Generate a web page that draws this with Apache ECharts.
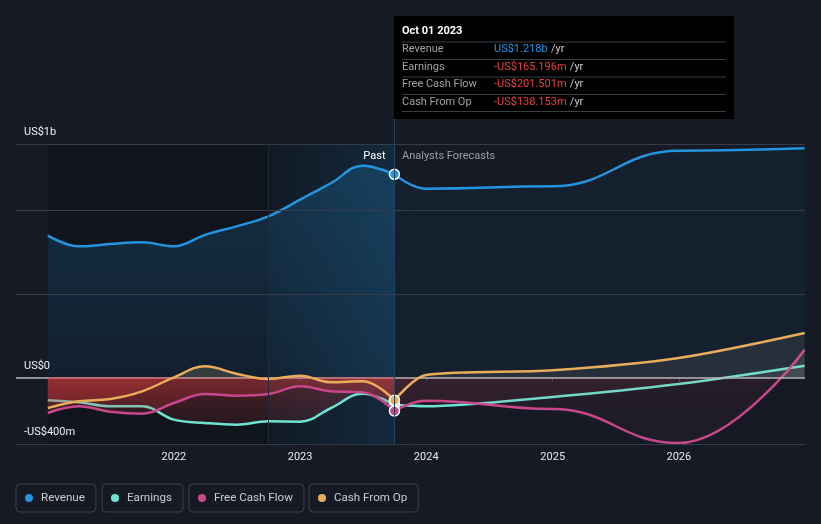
<!DOCTYPE html>
<html><head><meta charset="utf-8">
<script src="https://cdn.jsdelivr.net/npm/echarts@6/dist/echarts.min.js"></script>
<style>html,body{margin:0;padding:0;background:#151a25;}#c{width:821px;height:524px;}</style>
</head><body><div id="c"></div>
<script>
// ---- data (values in US$ billions) ----
const pastDates = ['2021-01-01','2021-04-01','2021-07-01','2021-10-01','2022-01-01','2022-04-01','2022-07-01','2022-10-01','2023-01-01','2023-04-01','2023-07-01','2023-10-01'];
const forecastDates = ['2023-12-31','2024-12-31','2025-12-31','2026-12-31'];
const revenuePast = [0.85,0.786,0.80,0.81,0.786,0.855,0.906,0.966,1.066,1.166,1.27,1.218];
const revenueForecast = [1.132,1.146,1.36,1.374];
const earningsPast = [-0.138,-0.15,-0.174,-0.174,-0.254,-0.274,-0.284,-0.264,-0.266,-0.184,-0.098,-0.165196];
const earningsForecast = [-0.174,-0.118,-0.04,0.07];
const fcfPast = [-0.214,-0.174,-0.206,-0.218,-0.154,-0.10,-0.11,-0.10,-0.054,-0.084,-0.09,-0.201501];
const fcfForecast = [-0.14,-0.19,-0.394,0.166];
const cfoPast = [-0.184,-0.144,-0.13,-0.084,0.0,0.066,0.022,-0.01,0.01,-0.03,-0.024,-0.138153];
const cfoForecast = [0.014,0.042,0.116,0.266];
const seriesNames = ['Revenue','Earnings','Free Cash Flow','Cash From Op'];
const gridValues = [1.4, 1.0, 0.5, 0, -0.4];
const gridLabels = ['US$1b','','','US$0','-US$400m'];
const tooltipTitle = 'Oct 01 2023';
const lastYearStart = '2022-10-01';
const nowDate = '2023-10-01';

// ---- styles ----
const colors = ['#2394df','#6fe3d2','#c8478b','#e9ac5b'];
const flatForecast = [true, false, true, false];
const FONT = 'Roboto';
const GRID = {left:16, right:16, top:144, bottom:80};
const zeroOff = 1.4/1.8;

function split(t){return new echarts.graphic.LinearGradient(0, 144, 0, 444, [
  {offset:0, color:t[0]},{offset:zeroOff-0.0005, color:t[0]},
  {offset:zeroOff, color:t[1]},{offset:1, color:t[2]}], true);}
const pastFill = split(['rgba(200,180,130,0.28)','rgba(220,58,60,0.42)','rgba(220,58,60,0.06)']);
const foreFill = split(['rgba(175,175,165,0.16)','rgba(200,60,75,0.13)','rgba(200,60,75,0.05)']);

function pair(a, b){return a.map((v,i)=>[b[i], v]);}
function mkSeries(idx, past, fore){
  const name = seriesNames[idx], c = colors[idx];
  const pastData = pair(past, pastDates);
  const last = pastData.length - 1;
  pastData[last] = {value: pastData[last], symbol:'circle', symbolSize:10,
    itemStyle:{color:c, borderColor:'#ffffff', borderWidth:1.5}};
  const foreData = [[nowDate, past[past.length-1]]].concat(pair(fore, forecastDates));
  const isRev = idx === 0;
  const fs = {name, type:'line', data: foreData, symbol:'none', showSymbol:false,
    itemStyle:{color:c}, lineStyle:{color:c, width:2.5}, z: 2 + idx,
    areaStyle: isRev ? {color:'rgba(35,148,223,0.08)'} : {color: foreFill},
    animation:false};
  if (flatForecast[idx]) { fs.smooth = 0.45; fs.smoothMonotone = 'x'; } else { fs.smooth = 0.3; }
  return [{
    name, type:'line', data: pastData, smooth:0.4, symbol:'none', showSymbol:true,
    itemStyle:{color:c}, lineStyle:{color:c, width:2.5}, z: 3 + idx,
    areaStyle: isRev ? {color: new echarts.graphic.LinearGradient(0,0,0,1,[
      {offset:0,color:'rgba(35,148,223,0.30)'},{offset:1,color:'rgba(35,148,223,0.13)'}])} : {color: pastFill},
    animation:false
  }, fs];
}

const series = [].concat(
  mkSeries(0, revenuePast, revenueForecast),
  mkSeries(1, earningsPast, earningsForecast),
  mkSeries(2, fcfPast, fcfForecast),
  mkSeries(3, cfoPast, cfoForecast)
);
series[0].markArea = {silent:true, animation:false, data:[
  [{xAxis: pastDates[0], itemStyle:{color:'rgba(0,0,0,0.22)'}},{xAxis: nowDate}],
  [{xAxis: lastYearStart, itemStyle:{color:new echarts.graphic.LinearGradient(0,0,1,0,[
     {offset:0,color:'rgba(35,148,223,0.04)'},{offset:1,color:'rgba(35,148,223,0.17)'}])}},{xAxis: nowDate}]
]};
series.push({
  name:'grid', type:'line', data:[], z:20, silent:true, animation:false,
  markLine:{silent:true, symbol:['none','none'], animation:false,
    data: gridValues.map((v,i)=>({yAxis:v,
      lineStyle:{color: v===0 ? '#b3b5bb' : '#353b47', width: v===0 ? 1.5 : 1, type:'solid'},
      label:{show: gridLabels[i] !== '', formatter: gridLabels[i], position:'insideStartTop',
        color:'#eef0f2', fontSize:11, fontFamily:FONT, distance:[8,6]}}))}
});

const legendLefts = [16, 102, 189, 309];
const legends = seriesNames.map((n,i)=>({
  data:[n], left: legendLefts[i], top: 484, icon:'circle', itemWidth:14, itemHeight:8,
  borderColor:'#3b414d', borderWidth:1, borderRadius:4, padding:[8,11,8,9],
  selectedMode:false, textStyle:{color:'#c9ccd1', fontSize:11.6, fontFamily:FONT}
}));

const chart = echarts.init(document.getElementById('c'));
chart.setOption({
  backgroundColor:'#151a25',
  animation:false,
  grid: GRID,
  legend: legends,
  xAxis: {type:'time', min:'2020-10-01', max:'2027-01-01', splitNumber:6,
    minInterval: 365*24*3600*1000, maxInterval: 366*24*3600*1000,
    axisLine:{show:true, lineStyle:{color:'#353b47'}},
    axisTick:{show:true, length:4, lineStyle:{color:'#4a505b'}},
    splitLine:{show:false},
    axisLabel:{color:'#e6e8eb', fontSize:11, fontFamily:FONT, margin:8, hideOverlap:false,
      formatter: v => { const d = new Date(v); const y = d.getFullYear();
        return (d.getMonth()===0 && d.getDate()===1 && y>=2022 && y<=2026) ? String(y) : ''; }}},
  yAxis: {type:'value', min:-0.4, max:1.4, show:false, splitLine:{show:false}},
  series
});

// ---- annotation overlay positioned through the axes ----
const parse = echarts.number.parseDate;
const xNow = Math.round(chart.convertToPixel({xAxisIndex:0}, +parse(nowDate))) + 0.5;
const xLy = Math.round(chart.convertToPixel({xAxisIndex:0}, +parse(lastYearStart))) + 0.5;
const yTop = chart.convertToPixel({yAxisIndex:0}, 1.4);
const yBot = chart.convertToPixel({yAxisIndex:0}, -0.4);

const lastVals = [revenuePast, earningsPast, fcfPast, cfoPast].map(a => a[a.length-1]);
function fmt(v){
  const s = v < 0 ? '-' : '';
  const a = Math.abs(v);
  return a >= 1 ? s + 'US$' + a.toFixed(3) + 'b' : s + 'US$' + (a*1000).toFixed(3) + 'm';
}
const boxW = 340, boxTop = 16, boxH = 103;
const rowY = [33.5, 51, 68.5, 86];
const sepY = [25.5, 43, 60.5, 78, 95];
const tipChildren = [
  {type:'rect', shape:{x:0,y:0,width:boxW,height:boxH}, style:{fill:'#000000'}},
  {type:'text', x:8, y:15.5, style:{text:tooltipTitle, fill:'#ffffff', font:'bold 11px '+FONT, verticalAlign:'middle'}}
];
sepY.forEach(y => tipChildren.push({type:'line', shape:{x1:8,y1:y+0.5,x2:332,y2:y+0.5}, style:{stroke:'#3a3d42', lineWidth:1}}));
seriesNames.forEach((n,i) => {
  tipChildren.push({type:'text', x:8, y:rowY[i], style:{text:n, fill:'#9ea2a8', font:'11px '+FONT, verticalAlign:'middle'}});
  tipChildren.push({type:'text', x:100, y:rowY[i], style:{
    text:'{v|'+fmt(lastVals[i])+'} {u|/yr}', verticalAlign:'middle',
    rich:{v:{fill: lastVals[i] < 0 ? '#e8423f' : '#2394df', font:'11px '+FONT}, u:{fill:'#c9c9c9', font:'11px '+FONT}}}});
});

chart.setOption({graphic:[
  {type:'line', z:30, shape:{x1:xNow,y1:boxTop+boxH,x2:xNow,y2:yBot}, style:{stroke:'#25435f', lineWidth:1}},
  {type:'line', z:30, shape:{x1:xLy,y1:yTop,x2:xLy,y2:yBot}, style:{stroke:'#1c2c3c', lineWidth:1}},
  {type:'group', x: xNow - 0.5, y: boxTop, z:40, children: tipChildren},
  {type:'text', z:40, x: xNow - 9, y: 156, style:{text:'Past', fill:'#ffffff', font:'11px '+FONT, align:'right', verticalAlign:'middle'}},
  {type:'text', z:40, x: xNow + 7.5, y: 156, style:{text:'Analysts Forecasts', fill:'#9aa0a8', font:'11px '+FONT, align:'left', verticalAlign:'middle'}}
]});
</script></body></html>
